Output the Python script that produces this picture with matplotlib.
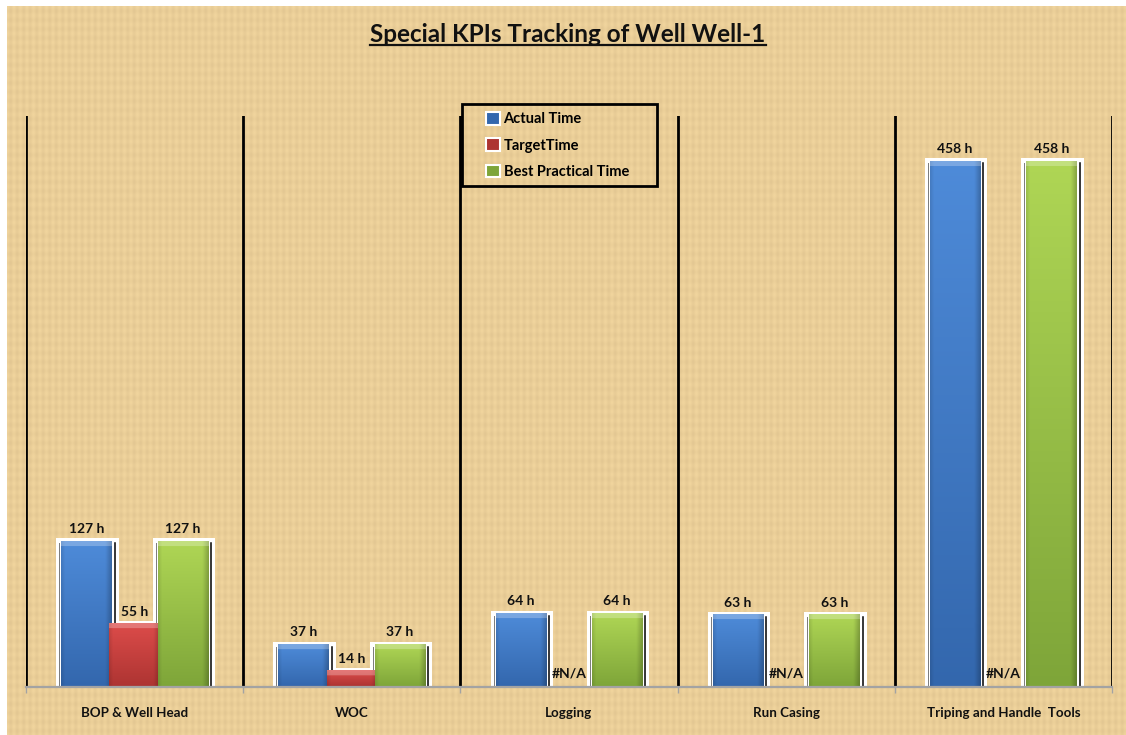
import numpy as np
import matplotlib.pyplot as plt
from matplotlib.patches import Rectangle, Patch
from matplotlib.lines import Line2D
from matplotlib.colors import to_rgb

plt.rcParams['font.family'] = ['Lato', 'DejaVu Sans']

# data
categories = ['BOP & Well Head', 'WOC', 'Logging', 'Run Casing', 'Triping and Handle  Tools']
actual_time = [127, 37, 64, 63, 458]
target_time = [55, 14, None, None, None]   # None -> shown as #N/A
best_time = [127, 37, 64, 63, 458]
series_names = ['Actual Time', 'TargetTime', 'Best Practical Time']

# colours (top, bottom) for the gradient bars
blue = ('#4E8BD9', '#3367AD')
red = ('#DC4C4A', '#AD3432')
green = ('#AFD655', '#7EA539')

W, H = 1126, 735
fig = plt.figure(figsize=(W / 100, H / 100), dpi=100, facecolor='white')

# tan woven background
bg = fig.add_axes([7 / W, 0, 1 - 7 / W, 1 - 6 / H], zorder=-10)
yy, xx = np.mgrid[0:H - 6, 0:W - 7]
weave = 4 * np.cos(2 * np.pi * xx / 6.5) + 2.5 * np.cos(2 * np.pi * yy / 9.0)
base = np.array([234, 206, 152], dtype=float)
tex = np.clip(base[None, None, :] + weave[..., None] * np.array([1, 1, 0.8]), 0, 255) / 255
bg.imshow(tex, aspect='auto', interpolation='nearest')
bg.axis('off')

ax_l, ax_r, ax_top, ax_bot = 26, 1112, 116, 687
ax = fig.add_axes([ax_l / W, 1 - ax_bot / H, (ax_r - ax_l) / W, (ax_bot - ax_top) / H])
ax.set_facecolor('none')
ytop = 497.5
ax.set_xlim(-0.5, 4.5)
ax.set_ylim(0, ytop)

px_x = (ax_r - ax_l) / 5.0          # pixels per x unit
px_y = (ax_bot - ax_top) / ytop     # pixels per hour


def gx(p):
    return p / px_x


def gy(p):
    return p / px_y


def shaded_bar(xc, v, cols, w=0.232):
    x0 = xc - w / 2
    ax.add_patch(Rectangle((x0 - gx(5), 0), w + gx(12), v + gy(3),
                           facecolor='white', edgecolor='none', zorder=2))
    ax.plot([x0 + w + gx(3)] * 2, [0, v - gy(2)], color='black', lw=1.1, zorder=2.5)
    ax.plot([x0 - gx(2)] * 2, [0, v - gy(2)], color='#7a7a7a', lw=0.7, zorder=2.5)
    n = max(int(v * px_y), 2)
    m = 40
    top, bot = np.array(to_rgb(cols[0])), np.array(to_rgb(cols[1]))
    t = np.linspace(0, 1, n)[:, None, None]
    img = bot + (top - bot) * t
    img = np.repeat(img, m, axis=1)
    u = np.linspace(0, 1, m)
    side = 1 - 0.22 * np.clip((u - 0.88) / 0.12, 0, 1) - 0.10 * np.clip((0.07 - u) / 0.07, 0, 1)
    img = img * side[None, :, None]
    bev = max(1, int(round(5 / max(v * px_y, 1) * n)))
    img[-bev:] = img[-bev:] * 0.75 + 0.25
    ax.imshow(np.clip(img, 0, 1), extent=(x0, x0 + w, 0, v), origin='lower',
              aspect='auto', interpolation='bilinear', zorder=3)


off = 0.222
x = np.arange(len(categories))
for i in range(len(categories)):
    shaded_bar(x[i] - off, actual_time[i], blue)
    if target_time[i] is not None:
        shaded_bar(x[i], target_time[i], red)
    shaded_bar(x[i] + off, best_time[i], green)

lab = dict(ha='center', va='baseline', fontsize=10, fontweight='bold', color='#111111',
           textcoords='offset points', zorder=5)
for i in range(len(categories)):
    ax.annotate(f'{actual_time[i]} h', (x[i] - off, actual_time[i]), xytext=(0, 5.8), **lab)
    ax.annotate(f'{best_time[i]} h', (x[i] + off, best_time[i]), xytext=(0, 5.8), **lab)
    if target_time[i] is not None:
        ax.annotate(f'{target_time[i]} h', (x[i], target_time[i]), xytext=(0, 5.8), **lab)
    else:
        ax.annotate('#N/A', (x[i], 0), xytext=(0, 6.5), **lab)

ax.set_xlim(-0.5, 4.5)
ax.set_ylim(0, ytop)

# category separators
for b in np.arange(-0.5, 5, 1):
    ax.axvline(b, color='black', lw=2, zorder=1)

for s in ['top', 'left', 'right']:
    ax.spines[s].set_visible(False)
ax.spines['bottom'].set_color('#a3a3a3')
ax.spines['bottom'].set_linewidth(1.6)
ax.spines['bottom'].set_zorder(4)
ax.set_yticks([])
ax.set_xticks(x)
ax.set_xticklabels(categories, fontsize=9.6, fontweight='bold', color='#111111')
ax.set_xticks(np.arange(-0.5, 5, 1), minor=True)
ax.tick_params(axis='x', which='major', length=0, pad=14.5)
ax.tick_params(axis='x', which='minor', length=4, color='#a3a3a3', width=1)

# title with underline
title = fig.text(568 / W, 1 - 42 / H, 'Special KPIs Tracking of Well Well-1',
                 ha='center', va='baseline', fontsize=17.5, fontweight='bold', color='#111111')
fig.canvas.draw()
bb = title.get_window_extent(fig.canvas.get_renderer())
fig.add_artist(Line2D([bb.x0 / W, bb.x1 / W], [1 - 45 / H] * 2, color='#111111', lw=1.6,
                      transform=fig.transFigure))

# legend with hand-drawn frame
handles = [Patch(facecolor=c[1], edgecolor='white', linewidth=1.5) for c in (blue, red, green)]
fig.legend(handles, series_names, loc='upper left', bbox_to_anchor=(486 / W, 1 - 112 / H),
           bbox_transform=fig.transFigure, frameon=False, borderpad=0, borderaxespad=0,
           handlelength=0.95, handleheight=0.95, handletextpad=0.25, labelspacing=0.82,
           prop={'weight': 'bold', 'size': 10.5})
fig.add_artist(Rectangle((462 / W, 1 - 186 / H), 195 / W, 82 / H, transform=fig.transFigure,
                         facecolor='none', edgecolor='black', lw=2))

fig.savefig('out.png', dpi=100)
